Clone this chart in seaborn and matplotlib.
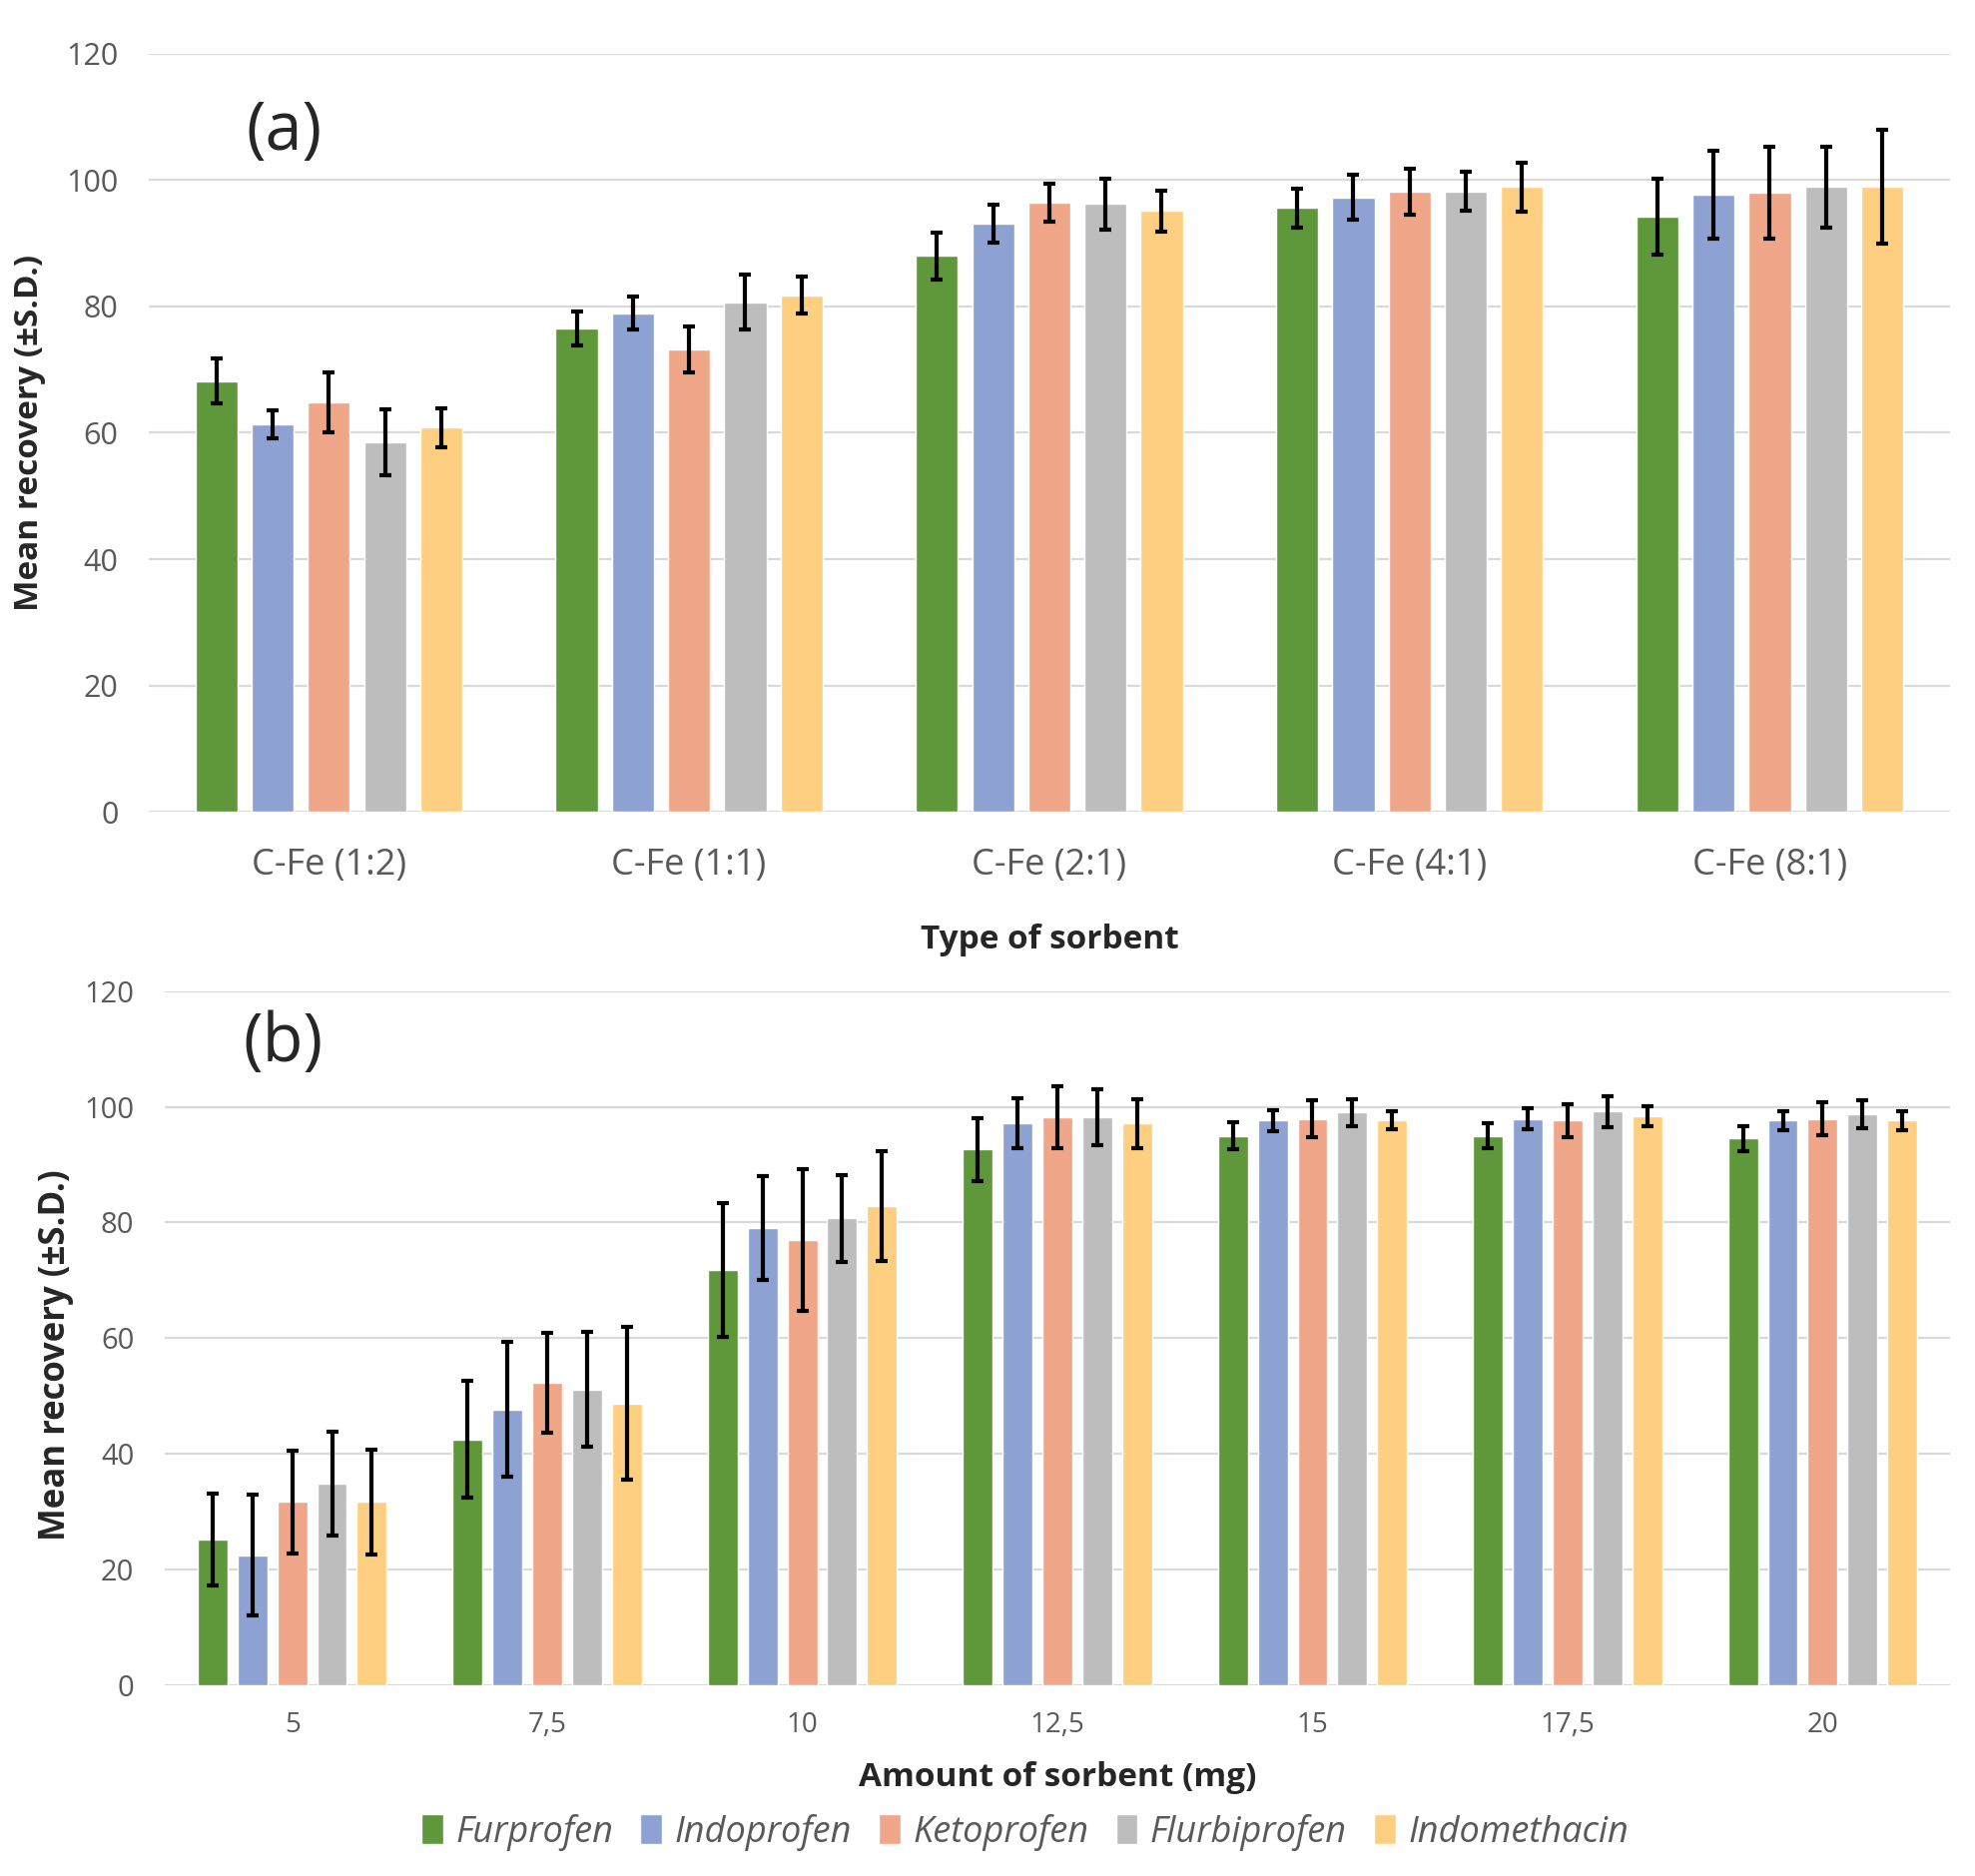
import numpy as np
import pandas as pd
import matplotlib.pyplot as plt
import seaborn as sns
from matplotlib.patches import Patch

drugs = ['Furprofen', 'Indoprofen', 'Ketoprofen', 'Flurbiprofen', 'Indomethacin']
colors = ['#5F973B', '#8EA1D3', '#F0A688', '#BDBDBD', '#FECF80']

# (a) type of sorbent, one row per drug
sorbents = ['C-Fe (1:2)', 'C-Fe (1:1)', 'C-Fe (2:1)', 'C-Fe (4:1)', 'C-Fe (8:1)']
mean_a = [[68.2, 76.5, 88.0, 95.6, 94.2],
          [61.4, 78.9, 93.1, 97.3, 97.7],
          [64.8, 73.2, 96.4, 98.2, 98.0],
          [58.5, 80.7, 96.2, 98.2, 98.9],
          [60.8, 81.8, 95.1, 98.9, 98.9]]
sd_a = [[3.5, 2.7, 3.7, 3.1, 6.0],
        [2.2, 2.6, 3.0, 3.5, 6.9],
        [4.8, 3.6, 3.0, 3.6, 7.3],
        [5.2, 4.3, 4.0, 3.1, 6.4],
        [3.1, 2.9, 3.2, 3.9, 9.0]]

# (b) amount of sorbent (mg)
amounts = ['5', '7,5', '10', '12,5', '15', '17,5', '20']
mean_b = [[25.2, 42.5, 71.8, 92.6, 95.0, 95.0, 94.5],
          [22.5, 47.7, 79.0, 97.1, 97.6, 97.9, 97.6],
          [31.7, 52.3, 77.0, 98.2, 97.9, 97.6, 97.9],
          [34.8, 51.1, 80.7, 98.2, 99.0, 99.2, 98.7],
          [31.7, 48.7, 82.8, 97.1, 97.7, 98.4, 97.6]]
sd_b = [[8.0, 10.1, 11.5, 5.4, 2.4, 2.1, 2.2],
        [10.5, 11.6, 9.0, 4.3, 1.8, 1.8, 1.7],
        [8.9, 8.6, 12.3, 5.4, 3.2, 2.9, 2.8],
        [9.0, 9.9, 7.5, 4.8, 2.3, 2.7, 2.4],
        [9.1, 13.2, 9.5, 4.2, 1.5, 1.7, 1.7]]

sns.set_style('white')
plt.rcParams['font.family'] = ['Open Sans', 'DejaVu Sans']

gray_txt = '#595959'


def long_df(cats, means):
    rows = []
    for d, vals in zip(drugs, means):
        for c, v in zip(cats, vals):
            rows.append({'cat': c, 'drug': d, 'mean': v})
    return pd.DataFrame(rows)


def panel(ax, cats, means, sds, ytick_size, tick_size, tick_pad):
    df = long_df(cats, means)
    sns.barplot(data=df, x='cat', y='mean', hue='drug', hue_order=drugs,
                palette=colors, saturation=1, width=0.78, gap=0.25,
                errorbar=None, legend=False, ax=ax, zorder=2)
    bar_groups = list(ax.containers)
    for i, cont in enumerate(bar_groups):
        xs = [b.get_x() + b.get_width() / 2 for b in cont]
        ax.errorbar(xs, means[i], yerr=sds[i], fmt='none', ecolor='black',
                    elinewidth=3, capsize=4, capthick=3, zorder=3)
    ax.set_ylim(0, 120)
    ax.set_yticks(range(0, 121, 20))
    ax.set_xlim(-0.5, len(cats) - 0.5)
    ax.grid(axis='y', color='#D9D9D9', lw=1.6, zorder=0)
    ax.set_axisbelow(True)
    sns.despine(ax=ax, left=True, bottom=True)
    ax.tick_params(axis='y', length=0, labelsize=ytick_size, pad=22,
                   labelcolor=gray_txt)
    ax.tick_params(axis='x', length=0, labelsize=tick_size, pad=tick_pad,
                   labelcolor=gray_txt)


fig = plt.figure(figsize=(19.78, 18.79), dpi=100)
ax1 = fig.add_axes([0.0753, 0.5673, 0.912, 0.404])
ax2 = fig.add_axes([0.0834, 0.1017, 0.904, 0.370])

panel(ax1, sorbents, mean_a, sd_a, 22, 26, 26)
panel(ax2, amounts, mean_b, sd_b, 21, 20, 19)

ax1.set_xlabel('Type of sorbent', fontsize=24, fontweight='bold')
ax1.xaxis.set_label_coords(0.5, -0.147)
ax1.set_ylabel('Mean recovery (±S.D.)', fontsize=24, fontweight='bold')
ax1.yaxis.set_label_coords(-0.057, 0.5)
ax1.text(0.054, 0.897, '(a)', transform=ax1.transAxes, fontsize=48,
         va='center', ha='left')

ax2.set_xlabel('Amount of sorbent (mg)', fontsize=24, fontweight='bold')
ax2.xaxis.set_label_coords(0.5, -0.109)
ax2.set_ylabel('Mean recovery (±S.D.)', fontsize=25, fontweight='bold')
ax2.yaxis.set_label_coords(-0.051, 0.476)
ax2.text(0.044, 0.925, '(b)', transform=ax2.transAxes, fontsize=48,
         va='center', ha='left')

handles = [Patch(facecolor=c, label=d) for c, d in zip(colors, drugs)]
fig.legend(handles=handles, loc='center', bbox_to_anchor=(0.519, 0.0234),
           ncol=5, frameon=False, prop={'size': 26, 'style': 'italic'},
           labelcolor=gray_txt, handlelength=0.6, handleheight=0.9,
           handletextpad=0.35, columnspacing=0.75)

fig.savefig('out.png', dpi=100)
